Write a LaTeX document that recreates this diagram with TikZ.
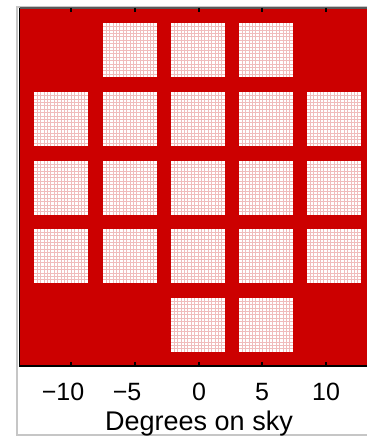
\documentclass[tikz,border=0pt]{standalone}
\usepackage{fontspec}
\setmainfont{Liberation Sans}
\usetikzlibrary{positioning}
\definecolor{skyred}{RGB}{204,0,0}
\definecolor{meshpink}{RGB}{240,188,188}

\begin{document}
\begin{tikzpicture}[
x=0.5pt,y=-0.5pt,
tile/.style={rectangle,fill=white,minimum size=27pt,inner sep=0pt,
  path picture={\draw[meshpink,line width=0.4pt] (path picture bounding box.south west) grid[step=1.7pt] (path picture bounding box.north east);}},
ticklab/.style={anchor=base,font=\fontsize{12.5}{15}\selectfont},
axis/.style={line width=0.8pt}
]
\useasboundingbox (0,0) rectangle (367,437);
% frame and field
\fill[white] (0,0) rectangle (367,437);
\draw[gray!45,line width=1pt] (367,7) -- (17,7) -- (17,435) -- (367,435);
\fill[skyred] (19.5,8) rectangle (367,366);
\draw[gray!70!black,line width=0.8pt] (19.5,8) -- (367,8);
\draw[axis] (19.5,8) -- (19.5,366) -- (367,366);

% tiles
\foreach \c/\x in {2/130,3/198,4/266}
  \node[tile] (t1\c) at (\x,50.5) {};
\foreach \r/\y in {2/119.5,3/188,4/256}
  \foreach \c/\x in {1/61,2/130,3/198,4/266,5/334}
    \node[tile] (t\r\c) at (\x,\y) {};
\foreach \c/\x in {3/198,4/266}
  \node[tile] (t5\c) at (\x,325) {};

% ticks and labels
\foreach \x in {71,135,199,262,326} {
  \draw[axis] (\x,366) -- (\x,362);
  \draw[axis] (\x,8) -- (\x,12);
}
\node[ticklab] (lm10) at (63,400) {−10};
\node[ticklab] (lm5) at (127,400) {−5};
\node[ticklab] (l0) at (199,400) {0};
\node[ticklab] (l5) at (262,400) {5};
\node[ticklab] (l10) at (326,400) {10};
\node[ticklab,font=\fontsize{13.5}{16}\selectfont] (xlabel) at (199,430) {Degrees on sky};
\end{tikzpicture}
\end{document}
